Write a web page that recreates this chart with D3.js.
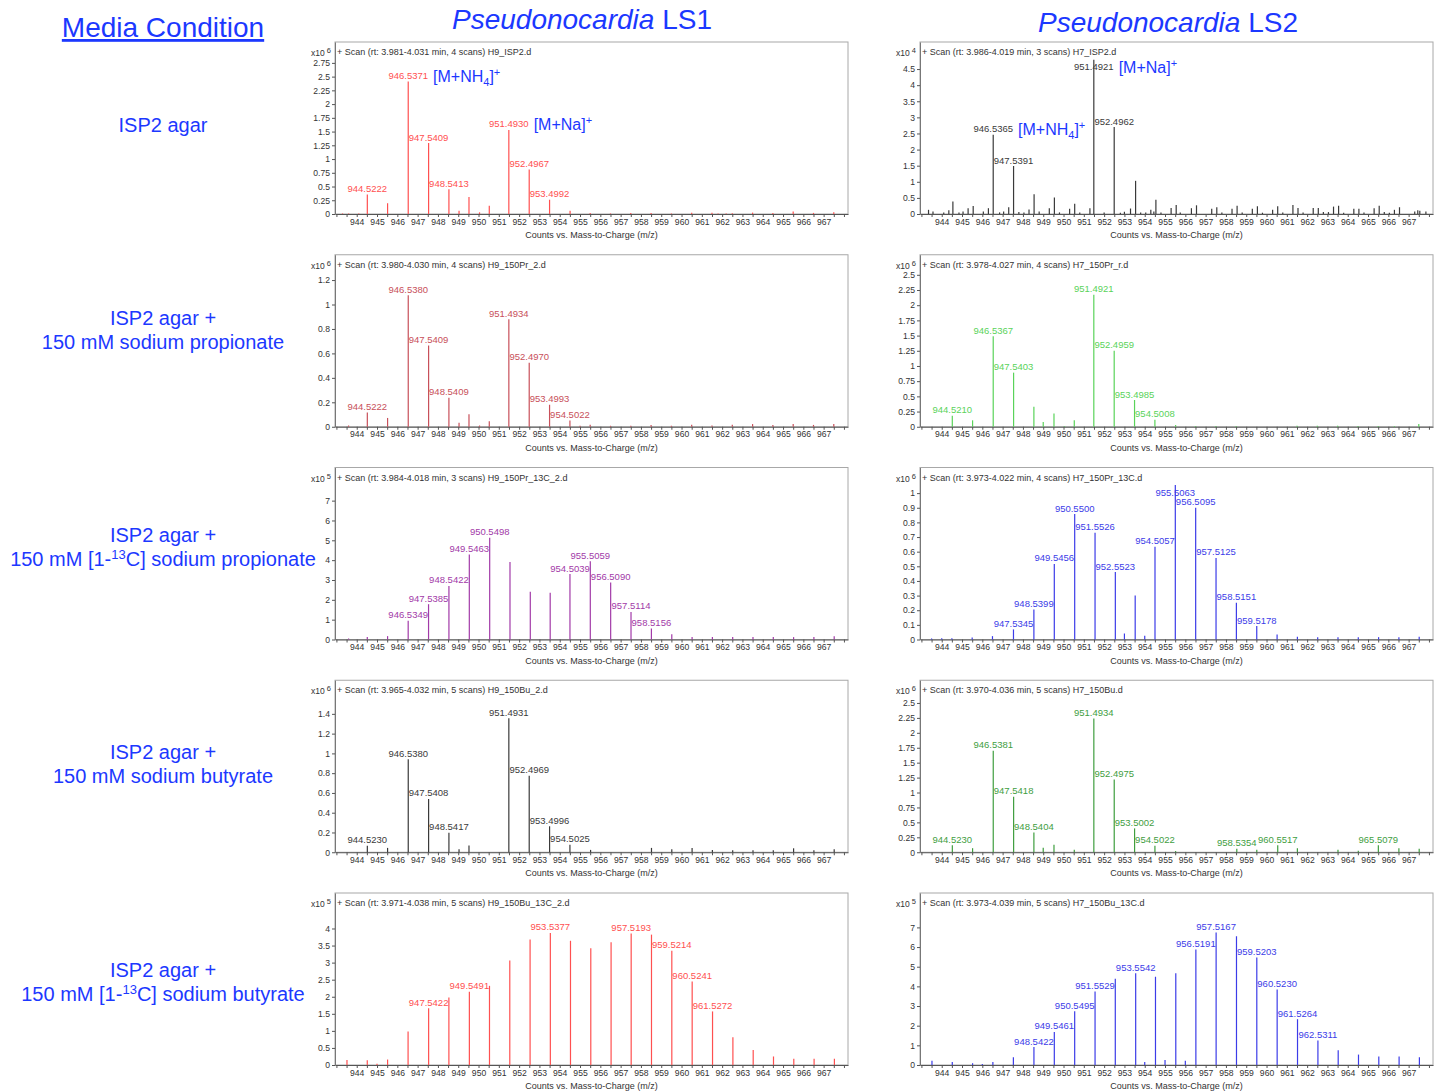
<!DOCTYPE html>
<html>
<head>
<meta charset="utf-8">
<script src="https://cdn.jsdelivr.net/npm/d3@7"></script>
<style>
  body { margin: 0; background: #fff; }
  svg text { font-family: "Liberation Sans", Arial, sans-serif; }
</style>
</head>
<body>
<svg id="fig" width="1445" height="1091"></svg>
<script>
// ---------------- data ----------------
const strainNames = ["LS1", "LS2"];

const conditionLines = [
  ["ISP2 agar"],
  ["ISP2 agar +", "150 mM sodium propionate"],
  ["ISP2 agar +", "150 mM [1-|13|C] sodium propionate"],
  ["ISP2 agar +", "150 mM sodium butyrate"],
  ["ISP2 agar +", "150 mM [1-|13|C] sodium butyrate"]
];

// panel order: row by row, LS1 then LS2
const scanTitles = [
  "+ Scan (rt: 3.981-4.031 min, 4 scans) H9_ISP2.d",
  "+ Scan (rt: 3.986-4.019 min, 3 scans) H7_ISP2.d",
  "+ Scan (rt: 3.980-4.030 min, 4 scans) H9_150Pr_2.d",
  "+ Scan (rt: 3.978-4.027 min, 4 scans) H7_150Pr_r.d",
  "+ Scan (rt: 3.984-4.018 min, 3 scans) H9_150Pr_13C_2.d",
  "+ Scan (rt: 3.973-4.022 min, 4 scans) H7_150Pr_13C.d",
  "+ Scan (rt: 3.965-4.032 min, 5 scans) H9_150Bu_2.d",
  "+ Scan (rt: 3.970-4.036 min, 5 scans) H7_150Bu.d",
  "+ Scan (rt: 3.971-4.038 min, 5 scans) H9_150Bu_13C_2.d",
  "+ Scan (rt: 3.973-4.039 min, 5 scans) H7_150Bu_13C.d"
];

const exponents = [6, 4, 6, 6, 5, 6, 6, 6, 5, 5];

const yMaxima = [3.13, 5.34, 1.407, 2.83, 8.67, 1.175, 1.74, 2.88, 5.04, 8.75];

const yTickValues = [
  [0, 0.25, 0.5, 0.75, 1, 1.25, 1.5, 1.75, 2, 2.25, 2.5, 2.75],
  [0, 0.5, 1, 1.5, 2, 2.5, 3, 3.5, 4, 4.5],
  [0, 0.2, 0.4, 0.6, 0.8, 1, 1.2],
  [0, 0.25, 0.5, 0.75, 1, 1.25, 1.5, 1.75, 2, 2.25, 2.5],
  [0, 1, 2, 3, 4, 5, 6, 7],
  [0, 0.1, 0.2, 0.3, 0.4, 0.5, 0.6, 0.7, 0.8, 0.9, 1],
  [0, 0.2, 0.4, 0.6, 0.8, 1, 1.2, 1.4],
  [0, 0.25, 0.5, 0.75, 1, 1.25, 1.5, 1.75, 2, 2.25, 2.5],
  [0, 0.5, 1, 1.5, 2, 2.5, 3, 3.5, 4],
  [0, 1, 2, 3, 4, 5, 6, 7]
];

const mzRange = [942.93, 968.2];
const mzTickValues = d3.range(943, 968.01, 0.5);
const mzLabelled = d3.range(944, 968);

// peaks: [m/z, intensity (x10^exponent), labelled 1/0]
const ls1Isp2 = [
  [943.3, 0.01, 0], [943.6, 0.01, 0], [944.1, 0.01, 0], [944.5222, 0.356, 1], [945.52, 0.196, 0],
  [946.5371, 2.41, 1], [947.5409, 1.29, 1], [948.5413, 0.45, 1], [949.04, 0.06, 0], [949.53, 0.31, 0],
  [950.05, 0.03, 0], [950.53, 0.15, 0], [951.4930, 1.53, 1], [952.4967, 0.81, 1], [953.4992, 0.26, 1],
  [954.51, 0.06, 0], [955.5, 0.02, 0], [956.5, 0.01, 0], [957.5, 0.02, 0], [958.5, 0.02, 0],
  [959.5, 0.01, 0], [960.5, 0.025, 0], [961.5, 0.025, 0], [961.8, 0.01, 0], [962.2, 0.01, 0],
  [962.5, 0.015, 0], [963.5, 0.025, 0], [964.5, 0.02, 0], [965.5, 0.045, 0], [966.5, 0.02, 0], [967.5, 0.03, 0]
];

const ls2Isp2 = [
  [943.35, 0.13, 0], [943.57, 0.08, 0], [944.1, 0.05, 0], [944.35, 0.12, 0], [944.55, 0.39, 0],
  [944.85, 0.05, 0], [945.05, 0.08, 0], [945.3, 0.18, 0], [945.55, 0.25, 0], [946.05, 0.08, 0],
  [946.3, 0.18, 0], [946.5365, 2.46, 1], [946.85, 0.05, 0], [947.05, 0.08, 0], [947.3, 0.21, 0],
  [947.5391, 1.49, 1], [947.8, 0.06, 0], [948.05, 0.05, 0], [948.3, 0.14, 0], [948.55, 0.61, 0],
  [948.8, 0.08, 0], [949.3, 0.18, 0], [949.55, 0.51, 0], [949.8, 0.05, 0], [950.3, 0.16, 0],
  [950.55, 0.32, 0], [950.8, 0.05, 0], [951.3, 0.18, 0], [951.4921, 4.79, 1], [952.0, 0.05, 0],
  [952.4962, 2.70, 1], [952.8, 0.04, 0], [953.0, 0.07, 0], [953.3, 0.17, 0], [953.55, 1.03, 0],
  [953.8, 0.05, 0], [954.05, 0.05, 0], [954.3, 0.13, 0], [954.45, 0.08, 0], [954.55, 0.44, 0],
  [954.8, 0.05, 0], [955.3, 0.19, 0], [955.55, 0.28, 0], [955.75, 0.05, 0], [956.3, 0.18, 0],
  [956.55, 0.27, 0], [957.3, 0.16, 0], [957.55, 0.21, 0], [957.8, 0.05, 0], [958.3, 0.16, 0],
  [958.55, 0.26, 0], [958.8, 0.05, 0], [959.3, 0.16, 0], [959.55, 0.24, 0], [959.8, 0.04, 0],
  [960.3, 0.13, 0], [960.55, 0.24, 0], [960.8, 0.05, 0], [961.3, 0.28, 0], [961.55, 0.19, 0],
  [961.8, 0.05, 0], [962.3, 0.19, 0], [962.55, 0.19, 0], [962.8, 0.06, 0], [963.05, 0.06, 0],
  [963.3, 0.23, 0], [963.55, 0.26, 0], [963.8, 0.04, 0], [964.3, 0.16, 0], [964.55, 0.16, 0],
  [964.8, 0.05, 0], [965.3, 0.18, 0], [965.55, 0.26, 0], [965.8, 0.06, 0], [966.05, 0.04, 0],
  [966.3, 0.13, 0], [966.55, 0.21, 0], [967.3, 0.08, 0], [967.45, 0.12, 0], [967.55, 0.1, 0], [967.85, 0.08, 0]
];

const ls1Prop = [
  [943.6, 0.01, 0], [944.5222, 0.116, 1], [945.52, 0.072, 0], [946.5380, 1.076, 1], [947.5409, 0.665, 1],
  [948.5409, 0.237, 1], [949.04, 0.033, 0], [949.53, 0.102, 0], [950.05, 0.01, 0], [950.53, 0.044, 0],
  [951.4934, 0.88, 1], [952.4970, 0.524, 1], [953.4993, 0.18, 1], [954.5022, 0.052, 1], [955.0, 0.008, 0],
  [955.5, 0.017, 0], [956.5, 0.008, 0], [957.5, 0.008, 0], [958.5, 0.015, 0], [959.5, 0.008, 0],
  [960.5, 0.017, 0], [961.5, 0.01, 0], [962.5, 0.017, 0], [963.5, 0.022, 0], [964.5, 0.015, 0],
  [965.5, 0.022, 0], [966.5, 0.015, 0], [967.5, 0.022, 0]
];

const ls2Prop = [
  [944.5210, 0.183, 1], [945.52, 0.106, 0], [946.5367, 1.49, 1], [947.5403, 0.89, 1], [948.54, 0.33, 0],
  [949.0, 0.078, 0], [949.53, 0.217, 0], [950.05, 0.01, 0], [950.53, 0.106, 0], [951.4921, 2.17, 1],
  [952.4959, 1.25, 1], [953.4985, 0.44, 1], [954.5008, 0.117, 1], [955.52, 0.028, 0], [956.5, 0.012, 0],
  [957.5, 0.012, 0], [958.5, 0.012, 0], [961.5, 0.017, 0], [962.5, 0.017, 0], [963.5, 0.017, 0],
  [964.5, 0.012, 0], [965.5, 0.012, 0], [966.3, 0.012, 0], [967.5, 0.044, 0]
];

const ls1Prop13C = [
  [943.6, 0.05, 0], [944.52, 0.12, 0], [945.52, 0.17, 0], [946.5349, 0.95, 1], [947.5385, 1.78, 1],
  [948.5422, 2.70, 1], [949.5463, 4.28, 1], [950.5498, 5.13, 1], [951.55, 3.91, 0], [952.55, 2.41, 0],
  [953.53, 2.36, 0], [954.5039, 3.30, 1], [955.5059, 3.94, 1], [956.5090, 2.87, 1], [957.5114, 1.39, 1],
  [958.5156, 0.56, 1], [959.52, 0.27, 0], [960.52, 0.13, 0], [961.52, 0.12, 0], [962.52, 0.12, 0],
  [963.52, 0.12, 0], [964.52, 0.13, 0], [965.52, 0.12, 0], [966.52, 0.12, 0], [967.52, 0.17, 0]
];

const ls2Prop13C = [
  [943.5, 0.007, 0], [944.0, 0.009, 0], [944.5, 0.009, 0], [945.5, 0.014, 0], [946.5, 0.023, 0],
  [947.5345, 0.069, 1], [948.5399, 0.205, 1], [949.5456, 0.516, 1], [950.5500, 0.857, 1], [951.5526, 0.73, 1],
  [952.5523, 0.461, 1], [953.0, 0.041, 0], [953.53, 0.30, 0], [954.0, 0.025, 0], [954.5057, 0.634, 1],
  [955.5063, 1.055, 1], [956.5095, 0.90, 1], [957.5125, 0.557, 1], [958.5151, 0.251, 1], [959.5178, 0.092, 1],
  [960.52, 0.035, 0], [961.52, 0.018, 0], [962.52, 0.016, 0], [963.52, 0.016, 0], [964.52, 0.016, 0],
  [965.52, 0.016, 0], [966.52, 0.016, 0], [967.52, 0.018, 0]
];

const ls1But = [
  [944.5230, 0.065, 1], [945.52, 0.044, 0], [946.5380, 0.942, 1], [947.5408, 0.539, 1], [948.5417, 0.198, 1],
  [949.04, 0.03, 0], [949.53, 0.068, 0], [951.4931, 1.355, 1], [952.4969, 0.775, 1], [953.4996, 0.263, 1],
  [954.5025, 0.075, 1], [955.52, 0.024, 0], [958.52, 0.044, 0], [959.52, 0.03, 0], [960.52, 0.044, 0],
  [961.52, 0.024, 0], [962.52, 0.02, 0], [963.52, 0.02, 0], [964.52, 0.02, 0], [965.52, 0.04, 0],
  [966.52, 0.02, 0], [967.52, 0.03, 0]
];

const ls2But = [
  [944.5230, 0.119, 1], [945.52, 0.068, 0], [946.5381, 1.70, 1], [947.5418, 0.93, 1], [948.5404, 0.33, 1],
  [949.0, 0.074, 0], [949.53, 0.124, 0], [950.53, 0.04, 0], [951.4934, 2.24, 1], [952.4975, 1.22, 1],
  [953.5002, 0.40, 1], [954.5022, 0.107, 1], [955.52, 0.02, 0], [958.5354, 0.057, 1], [959.52, 0.04, 0],
  [960.5517, 0.119, 1], [961.52, 0.068, 0], [963.52, 0.04, 0], [964.52, 0.025, 0], [965.5079, 0.119, 1],
  [966.52, 0.068, 0], [967.52, 0.057, 0]
];

const ls1But13C = [
  [943.52, 0.15, 0], [944.52, 0.14, 0], [945.0, 0.04, 0], [945.52, 0.16, 0], [946.53, 0.98, 0],
  [947.5422, 1.66, 1], [948.54, 1.98, 0], [949.5491, 2.15, 1], [950.54, 2.32, 0], [951.54, 3.06, 0],
  [952.54, 3.68, 0], [953.5377, 3.87, 1], [954.53, 3.64, 0], [955.53, 3.42, 0], [956.53, 3.60, 0],
  [957.5193, 3.85, 1], [958.52, 3.82, 0], [959.5214, 3.35, 1], [960.5241, 2.45, 1], [961.5272, 1.57, 1],
  [962.53, 0.81, 0], [963.53, 0.44, 0], [964.53, 0.25, 0], [965.53, 0.18, 0], [966.53, 0.18, 0], [967.53, 0.18, 0]
];

const ls2But13C = [
  [943.52, 0.21, 0], [944.52, 0.15, 0], [945.52, 0.09, 0], [946.0, 0.05, 0], [946.52, 0.15, 0],
  [947.53, 0.39, 0], [948.5422, 0.91, 1], [949.5461, 1.68, 1], [950.5495, 2.74, 1], [951.5529, 3.74, 1],
  [952.55, 4.39, 0], [953.5542, 4.67, 1], [954.0, 0.15, 0], [954.53, 4.49, 0], [955.0, 0.26, 0],
  [955.53, 4.67, 0], [956.0, 0.21, 0], [956.5191, 5.88, 1], [957.5167, 6.74, 1], [958.52, 6.55, 0],
  [959.5203, 5.47, 1], [960.5230, 3.84, 1], [961.5264, 2.33, 1], [962.5311, 1.25, 1], [963.53, 0.75, 0],
  [964.53, 0.53, 0], [965.53, 0.43, 0], [966.53, 0.43, 0], [967.53, 0.39, 0]
];

const panelPeaks = [ls1Isp2, ls2Isp2, ls1Prop, ls2Prop, ls1Prop13C, ls2Prop13C, ls1But, ls2But, ls1But13C, ls2But13C];

// adduct annotations next to labelled peaks: [panel, m/z, adduct]
const adducts = [
  [0, 946.5371, "NH4"],
  [0, 951.4930, "Na"],
  [1, 951.4921, "Na"],
  [1, 946.5365, "NH4"]
];

// ---------------- styling / layout ----------------
const peakColors = ["#ff5050", "#3a3a3a", "#c8505a", "#5ad35a", "#a23aa8",
                    "#3c3ce8", "#3a3a3a", "#3f9e3f", "#ff5050", "#3c3ce8"];
const blue = "#1c38ff";
const panelW = 513, panelH = 172;
const colLeft = [335, 920];
const rowTop = [42, 254.75, 467.5, 680.25, 893];
const conditionY = [[125], [318, 342], [535, 559], [752, 776], [970, 994]];
const tickFont = 8.6, smallFont = 9, peakFont = 9.5;

const svg = d3.select("#fig");

// ---------------- headers ----------------
svg.append("text")
  .attr("x", 163).attr("y", 37)
  .attr("text-anchor", "middle")
  .attr("font-size", 28).attr("fill", blue)
  .attr("text-decoration", "underline")
  .text("Media Condition");

const headerPos = [[582, 29], [1168, 32]];
strainNames.forEach((s, c) => {
  const t = svg.append("text")
    .attr("x", headerPos[c][0]).attr("y", headerPos[c][1])
    .attr("text-anchor", "middle")
    .attr("font-size", 28).attr("fill", blue);
  t.append("tspan").attr("font-style", "italic").text("Pseudonocardia");
  t.append("tspan").text(" " + s);
});

// ---------------- condition labels ----------------
conditionLines.forEach((lines, r) => {
  lines.forEach((line, k) => {
    const t = svg.append("text")
      .attr("x", 163).attr("y", conditionY[r][k])
      .attr("dy", "0.35em")
      .attr("text-anchor", "middle")
      .attr("font-size", 20).attr("fill", blue);
    const parts = line.split("|");
    if (parts.length === 1) {
      t.text(line);
    } else {
      t.append("tspan").text(parts[0]);
      t.append("tspan").attr("font-size", 13).attr("dy", -7).text(parts[1]);
      t.append("tspan").attr("dy", 7).text(parts[2]);
    }
  });
});

// ---------------- spectra ----------------
panelPeaks.forEach((peaks, i) => {
  const row = Math.floor(i / 2), col = i % 2;
  const color = peakColors[i];
  const g = svg.append("g")
    .attr("transform", `translate(${colLeft[col]},${rowTop[row]})`);

  const x = d3.scaleLinear().domain(mzRange).range([0, panelW]);
  const y = d3.scaleLinear().domain([0, yMaxima[i]]).range([panelH, 0]);

  g.append("rect")
    .attr("width", panelW).attr("height", panelH)
    .attr("fill", "none").attr("stroke", "#a8a8a8").attr("stroke-width", 1);

  // x axis
  const xAxis = g.append("g")
    .attr("transform", `translate(0,${panelH})`)
    .call(d3.axisBottom(x)
      .tickValues(mzTickValues)
      .tickSize(3).tickSizeOuter(0).tickPadding(1.5)
      .tickFormat(d => mzLabelled.includes(d) ? d3.format("d")(d) : ""));
  xAxis.select(".domain").attr("stroke", "#555");
  xAxis.selectAll(".tick line").attr("stroke", "#555");
  xAxis.selectAll(".tick text")
    .attr("font-size", tickFont).attr("fill", "#333")
    .attr("font-family", "Liberation Sans, Arial, sans-serif");

  g.append("text")
    .attr("x", panelW / 2).attr("y", panelH + 24)
    .attr("text-anchor", "middle")
    .attr("font-size", smallFont).attr("fill", "#333")
    .text("Counts vs. Mass-to-Charge (m/z)");

  // y axis
  const yAxis = g.append("g")
    .call(d3.axisLeft(y)
      .tickValues(yTickValues[i])
      .tickSize(3).tickSizeOuter(0).tickPadding(2)
      .tickFormat(d3.format("~g")));
  yAxis.select(".domain").attr("stroke", "#777");
  yAxis.selectAll(".tick line").attr("stroke", "#555");
  yAxis.selectAll(".tick text")
    .attr("font-size", tickFont).attr("fill", "#333")
    .attr("font-family", "Liberation Sans, Arial, sans-serif");

  // exponent
  const ex = g.append("text")
    .attr("x", -4).attr("y", 14)
    .attr("text-anchor", "end")
    .attr("font-size", 8.5).attr("fill", "#333");
  ex.append("tspan").text("x10");
  ex.append("tspan").attr("dx", 2).attr("dy", -3).attr("font-size", 7.5).text(exponents[i]);

  // scan title
  g.append("text")
    .attr("x", 2).attr("y", 13)
    .attr("font-size", smallFont).attr("fill", "#333")
    .text(scanTitles[i]);

  // peak sticks
  g.append("g").selectAll("line")
    .data(peaks)
    .join("line")
    .attr("x1", d => x(d[0])).attr("x2", d => x(d[0]))
    .attr("y1", y(0)).attr("y2", d => y(d[1]))
    .attr("stroke", color).attr("stroke-width", 1.2);

  // peak labels
  const labelled = peaks.filter(d => d[2] === 1);
  const labels = g.append("g").selectAll("text")
    .data(labelled)
    .join("text")
    .attr("x", d => x(d[0]))
    .attr("y", d => Math.max(y(d[1]) - 2.5, 28))
    .attr("text-anchor", "middle")
    .attr("font-size", peakFont).attr("fill", color)
    .text(d => d[0].toFixed(4));

  // adduct annotations
  adducts.filter(a => a[0] === i).forEach(a => {
    const node = labels.filter(d => d[0] === a[1]).node();
    const w = node.getComputedTextLength();
    const lx = x(a[1]) + w / 2 + 5;
    const ly = +node.getAttribute("y") + 3;
    const t = g.append("text")
      .attr("x", lx).attr("y", ly)
      .attr("font-size", 16).attr("fill", blue);
    if (a[2] === "NH4") {
      t.append("tspan").text("[M+NH");
      t.append("tspan").attr("font-size", 11).attr("dy", 4).text("4");
      t.append("tspan").attr("dy", -4).text("]");
      t.append("tspan").attr("font-size", 11).attr("dy", -6).text("+");
    } else {
      t.append("tspan").text("[M+Na]");
      t.append("tspan").attr("font-size", 11).attr("dy", -6).text("+");
    }
  });
});
</script>
</body>
</html>
